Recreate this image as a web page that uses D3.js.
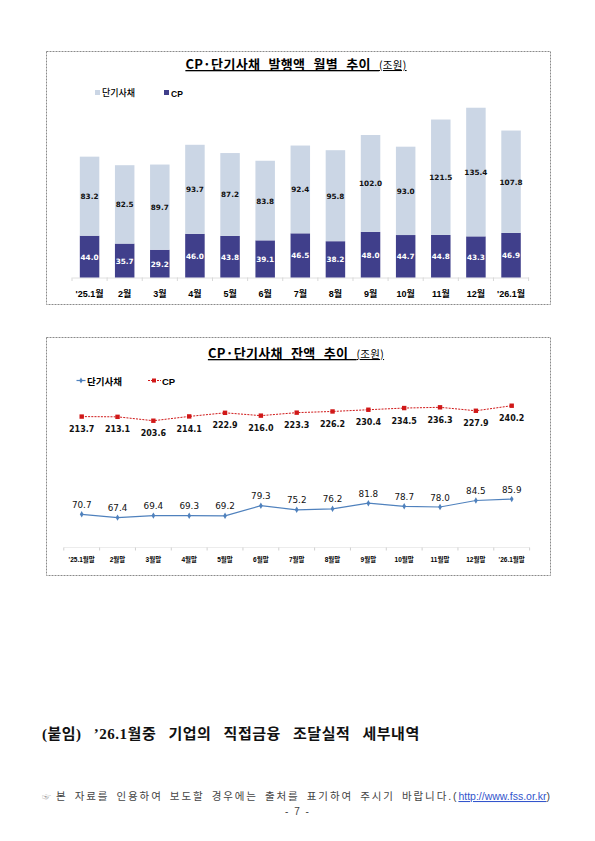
<!DOCTYPE html>
<html><head><meta charset="utf-8">
<script src="https://cdn.jsdelivr.net/npm/d3@7"></script>
<style>
html,body{margin:0;padding:0;background:#fff;}
svg{display:block;}
</style></head>
<body>
<script>
// ---- data ----
const issueMonths = ["'25.1월","2월","3월","4월","5월","6월","7월","8월","9월","10월","11월","12월","'26.1월"];
const issueShortTerm = [83.2,82.5,89.7,93.7,87.2,83.8,92.4,95.8,102.0,93.0,121.5,135.4,107.8];
const issueCP = [44.0,35.7,29.2,46.0,43.8,39.1,46.5,38.2,48.0,44.7,44.8,43.3,46.9];

const balMonths = ["'25.1월말","2월말","3월말","4월말","5월말","6월말","7월말","8월말","9월말","10월말","11월말","12월말","'26.1월말"];
const balShortTerm = [70.7,67.4,69.4,69.3,69.2,79.3,75.2,76.2,81.8,78.7,78.0,84.5,85.9];
const balCP = [213.7,213.1,203.6,214.1,222.9,216.0,223.3,226.2,230.4,234.5,236.3,227.9,240.2];

const title1 = "CP·단기사채 발행액 월별 추이 ";
const title2 = "CP·단기사채 잔액 추이 ";
const unitText = "(조원)";
const legendShort = "단기사채";
const legendCP = "CP";
const annexTitle = "(붙임) ’26.1월중 기업의 직접금융 조달실적 세부내역";
const noteText = "본 자료를 인용하여 보도할 경우에는 출처를 표기하여 주시기 바랍니다.(";
const noteLink = "http://www.fss.or.kr";
const pageNum = "- 7 -";

// ---- styles ----
const cLight = "#cbd6e5", cDark = "#403f8b", cRed = "#d01818", cBlue = "#4f81bd";
const FK = "'Liberation Sans','Noto Sans CJK KR',sans-serif";
const FKR = "'Noto Sans CJK KR',sans-serif";

const svg = d3.select("body").append("svg").attr("width",595).attr("height",841);
svg.append("rect").attr("width",595).attr("height",841).attr("fill","#fff");

// frames
[[46,51,504,253],[46,337,504,238]].forEach(([x,y,w,h])=>{
  svg.append("rect").attr("x",x+0.5).attr("y",y+0.5).attr("width",w).attr("height",h)
    .attr("fill","none").attr("stroke","#8a8a8a").attr("stroke-width",1).attr("stroke-dasharray","2,1");
});

function title(t, cx, y){
  const tx = svg.append("text").attr("x",cx).attr("y",y).attr("text-anchor","middle")
    .attr("font-family",FKR).attr("font-weight","bold").attr("font-size",13)
    .attr("letter-spacing",0.3).attr("word-spacing",5)
    .attr("text-decoration","underline").attr("fill","#000");
  tx.append("tspan").text(t);
  tx.append("tspan").attr("font-size",10.5).attr("font-weight","normal").text(unitText);
}

// ===== Chart 1 =====
title(title1, 296, 69);
// legend
svg.append("rect").attr("x",95).attr("y",90).attr("width",5).attr("height",5).attr("fill",cLight);
svg.append("text").attr("x",102).attr("y",96).attr("font-family",FKR).attr("font-size",9).attr("font-weight",500).text(legendShort);
svg.append("rect").attr("x",164).attr("y",90).attr("width",5).attr("height",5).attr("fill",cDark);
svg.append("text").attr("x",171).attr("y",96.5).attr("font-family",FK).attr("font-size",8.5).attr("font-weight","bold").text(legendCP);

const x1 = d3.scaleBand().domain(issueMonths).range([72,528.6]).paddingInner(0.445).paddingOuter(0.2225);
const y1 = d3.scaleLinear().domain([0,200]).range([277.5,87.5]);

const g1 = svg.append("g");
// axis
const ax1 = d3.axisBottom(x1).tickSize(0).tickFormat("");
g1.append("g").attr("transform","translate(0,277.5)").call(ax1)
  .call(g=>g.select(".domain").attr("stroke","#e0e0e0"));
const bounds1 = issueMonths.map(m=>x1(m)-x1.step()*x1.paddingInner()/2).concat([x1(issueMonths[12])+x1.bandwidth()+x1.step()*x1.paddingInner()/2]);
g1.selectAll(".tk").data(bounds1).join("line").attr("x1",d=>d).attr("x2",d=>d)
  .attr("y1",277.5).attr("y2",281).attr("stroke","#d8d8d8");

issueMonths.forEach((m,i)=>{
  const cp = issueCP[i], st = issueShortTerm[i];
  g1.append("rect").attr("x",x1(m)).attr("width",x1.bandwidth())
    .attr("y",y1(cp)).attr("height",y1(0)-y1(cp)).attr("fill",cDark);
  g1.append("rect").attr("x",x1(m)).attr("width",x1.bandwidth())
    .attr("y",y1(cp+st)).attr("height",y1(cp)-y1(cp+st)).attr("fill",cLight);
  const cx = x1(m)+x1.bandwidth()/2;
  g1.append("text").attr("x",cx).attr("y",(y1(0)+y1(cp))/2+3).attr("text-anchor","middle")
    .attr("font-family","'DejaVu Sans',sans-serif").attr("font-weight","bold").attr("font-size",7.3)
    .attr("fill","#fff").text(cp.toFixed(1));
  g1.append("text").attr("x",cx).attr("y",(y1(cp)+y1(cp+st))/2+3).attr("text-anchor","middle")
    .attr("font-family","'DejaVu Sans',sans-serif").attr("font-weight","bold").attr("font-size",7.3)
    .attr("fill","#111").text(st.toFixed(1));
  g1.append("text").attr("x",cx).attr("y",297).attr("text-anchor","middle")
    .attr("font-family",FK).attr("font-weight","bold").attr("font-size",9).attr("fill","#000").text(m);
});

// ===== Chart 2 =====
title(title2, 296, 358);
// legend
svg.append("line").attr("x1",76.5).attr("x2",85.5).attr("y1",380.5).attr("y2",380.5).attr("stroke",cBlue).attr("stroke-width",1.2);
svg.append("path").attr("d",d3.symbol(d3.symbolDiamond,10)()).attr("transform","translate(81,380.5)").attr("fill",cBlue);
svg.append("text").attr("x",87).attr("y",384.5).attr("font-family",FKR).attr("font-weight","bold").attr("font-size",9.5).text(legendShort);
svg.append("line").attr("x1",148).attr("x2",161).attr("y1",380.5).attr("y2",380.5).attr("stroke",cRed).attr("stroke-width",1.2).attr("stroke-dasharray","2,1");
svg.append("rect").attr("x",152).attr("y",378.5).attr("width",4).attr("height",4).attr("fill",cRed);
svg.append("text").attr("x",162).attr("y",384.5).attr("font-family",FK).attr("font-weight","bold").attr("font-size",9.5).text(legendCP);

const x2 = d3.scalePoint().domain(balMonths).range([81.7,511.7]);
const yCP = d3.scaleLinear().domain([200,250]).range([422.2,401.7]);
const ySt = d3.scaleLinear().domain([60,90]).range([525,495]);

const g2 = svg.append("g");
// axis
g2.append("line").attr("x1",x2(balMonths[0])-x2.step()/2).attr("x2",x2(balMonths[12])+x2.step()/2)
  .attr("y1",547.5).attr("y2",547.5).attr("stroke","#ececec");
const bounds2 = balMonths.map(m=>x2(m)-x2.step()/2).concat([x2(balMonths[12])+x2.step()/2]);
g2.selectAll(".tk").data(bounds2).join("line").attr("x1",d=>d).attr("x2",d=>d)
  .attr("y1",547.5).attr("y2",550.5).attr("stroke","#d0d0d0");
balMonths.forEach(m=>{
  g2.append("text").attr("x",x2(m)).attr("y",562).attr("text-anchor","middle")
    .attr("font-family",FK).attr("font-weight","bold").attr("font-size",6.5).attr("fill","#000").text(m);
});

// CP line
const lineCP = d3.line().x((d,i)=>x2(balMonths[i])).y(d=>yCP(d));
g2.append("path").attr("d",lineCP(balCP)).attr("fill","none").attr("stroke",cRed)
  .attr("stroke-width",1).attr("stroke-dasharray","2,1.2");
balCP.forEach((v,i)=>{
  g2.append("rect").attr("x",x2(balMonths[i])-2.2).attr("y",yCP(v)-2.2).attr("width",4.4).attr("height",4.4).attr("fill",cRed);
  g2.append("text").attr("x",x2(balMonths[i])).attr("y",yCP(v)+15.5).attr("text-anchor","middle")
    .attr("font-family","'DejaVu Sans',sans-serif").attr("font-weight","bold").attr("font-size",8)
    .attr("fill","#111").text(v.toFixed(1));
});

// short-term line
const lineSt = d3.line().x((d,i)=>x2(balMonths[i])).y(d=>ySt(d));
g2.append("path").attr("d",lineSt(balShortTerm)).attr("fill","none").attr("stroke",cBlue).attr("stroke-width",1.2);
balShortTerm.forEach((v,i)=>{
  g2.append("path").attr("d",d3.symbol(d3.symbolDiamond,12)()).attr("transform",`translate(${x2(balMonths[i])},${ySt(v)})`).attr("fill",cBlue);
  g2.append("text").attr("x",x2(balMonths[i])).attr("y",ySt(v)-6.5).attr("text-anchor","middle")
    .attr("font-family","'DejaVu Sans',sans-serif").attr("font-weight",500).attr("font-size",8.8)
    .attr("fill","#111").text(v.toFixed(1));
});

// ===== footer =====
svg.append("text").attr("x",42).attr("y",739).attr("font-family","'Liberation Serif','Noto Sans CJK KR',serif")
  .attr("font-weight","bold").attr("font-size",15).attr("letter-spacing",0.5).attr("word-spacing",8)
  .attr("fill","#111").text(annexTitle);

const note = svg.append("text").attr("x",42).attr("y",800).attr("font-family","'Liberation Sans','Noto Sans CJK KR',sans-serif")
  .attr("font-size",10.5).attr("fill","#444");
note.append("tspan").attr("font-size",9).attr("fill","#999").text("☞");
note.append("tspan").attr("dx",5).attr("letter-spacing",1.9).attr("word-spacing",2.3).text(noteText);
note.append("tspan").attr("fill","#3355cc").attr("text-decoration","underline").text(noteLink);
note.append("tspan").text(")");

svg.append("text").attr("x",297).attr("y",815).attr("text-anchor","middle").attr("font-family","'Liberation Sans',sans-serif")
  .attr("font-size",10).attr("fill","#444").attr("word-spacing",3).text(pageNum);
</script>
</body></html>
